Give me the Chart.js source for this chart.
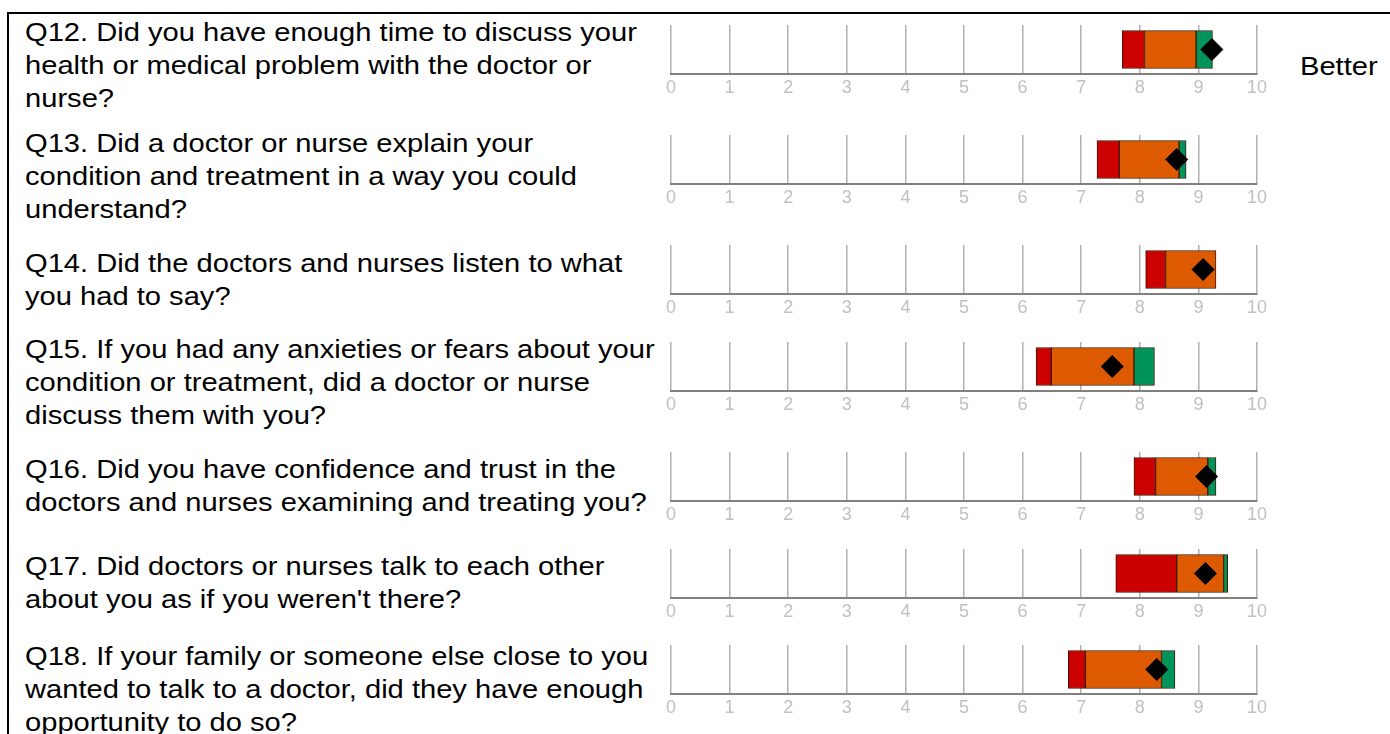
<!DOCTYPE html>
<html>
<head>
<meta charset="utf-8">
<script src="https://cdn.jsdelivr.net/npm/chart.js@4/dist/chart.umd.min.js"></script>
<style>
  body { margin: 0; background: #fff; width: 1390px; height: 734px; overflow: hidden; position: relative;
         font-family: "Liberation Sans", Arial, sans-serif; }
  .frame { position: absolute; left: 7px; top: 12px; width: 1400px; height: 800px;
           border-left: 2px solid #000; border-top: 2px solid #000; }
  .q, .better { position: absolute; font-size: 26px; line-height: 33px; color: #000;
                transform: scaleX(1.12); transform-origin: 0 0; white-space: nowrap; }
  .q { left: 25px; }
  .better { left: 1300px; top: 50px; }
  .row { position: absolute; left: 651px; width: 626px; height: 86px; }
</style>
</head>
<body>
<div class="frame"></div>
<div class="better">Better</div>
<div id="rows"></div>
<script>
const questions = [
  "Q12. Did you have enough time to discuss your<br>health or medical problem with the doctor or<br>nurse?",
  "Q13. Did a doctor or nurse explain your<br>condition and treatment in a way you could<br>understand?",
  "Q14. Did the doctors and nurses listen to what<br>you had to say?",
  "Q15. If you had any anxieties or fears about your<br>condition or treatment, did a doctor or nurse<br>discuss them with you?",
  "Q16. Did you have confidence and trust in the<br>doctors and nurses examining and treating you?",
  "Q17. Did doctors or nurses talk to each other<br>about you as if you weren't there?",
  "Q18. If your family or someone else close to you<br>wanted to talk to a doctor, did they have enough<br>opportunity to do so?"
];

// band edges per question: red from lowStart to lowEnd, orange to midEnd, green to highEnd
const lowStart = [7.70, 7.27, 8.10, 6.23, 7.90, 7.59, 6.78];
const lowEnd   = [8.08, 7.65, 8.44, 6.49, 8.27, 8.63, 7.07];
const midEnd   = [8.96, 8.67, 9.30, 7.90, 9.16, 9.43, 8.37];
const highEnd  = [9.24, 8.79, 9.30, 8.25, 9.30, 9.50, 8.60];
const scores   = [9.23, 8.63, 9.08, 7.53, 9.14, 9.12, 8.29];

const xTicks = [0, 1, 2, 3, 4, 5, 6, 7, 8, 9, 10];

// layout of each row (pixel y of the axis line, y of first text line)
const axisY = [74, 184, 294, 391, 501, 598, 694];
const textY = [16, 127, 247, 333, 453, 550, 640];

const rows = document.getElementById('rows');

questions.forEach((q, i) => {
  const t = document.createElement('div');
  t.className = 'q';
  t.style.top = textY[i] + 'px';
  t.innerHTML = q;
  rows.appendChild(t);

  const box = document.createElement('div');
  box.className = 'row';
  box.style.top = (axisY[i] - 61) + 'px';
  const c = document.createElement('canvas');
  box.appendChild(c);
  rows.appendChild(box);

  const band = (a, b) => (b > a ? [[a, b]] : [null]);

  new Chart(c, {
    data: {
      labels: [''],
      datasets: [
        { type: 'line', indexAxis: 'y', data: [scores[i]], showLine: false, order: 0,
          pointStyle: 'rectRot', pointRadius: 11, pointBackgroundColor: '#000', pointBorderColor: '#000', pointBorderWidth: 1 },
        { type: 'bar', indexAxis: 'y', data: band(lowStart[i], lowEnd[i]), backgroundColor: '#cc0000', order: 1 },
        { type: 'bar', indexAxis: 'y', data: band(lowEnd[i], midEnd[i]), backgroundColor: '#dd5a00', order: 1 },
        { type: 'bar', indexAxis: 'y', data: band(midEnd[i], highEnd[i]), backgroundColor: '#00935a', order: 1 }
      ]
    },
    options: {
      indexAxis: 'y',
      responsive: true,
      maintainAspectRatio: false,
      animation: false,
      layout: { padding: { left: 20, right: 20, top: 10, bottom: 0 } },
      datasets: {
        bar: { grouped: false, barThickness: 38, borderWidth: 1, borderColor: '#3a1a00', borderSkipped: false }
      },
      plugins: { legend: { display: false }, tooltip: { enabled: false } },
      scales: {
        x: {
          type: 'linear', min: 0, max: 10,
          afterBuildTicks: (s) => { s.ticks = xTicks.map(v => ({ value: v })); },
          afterFit: (s) => { s.height = 25; },
          grid: { color: '#b0b0b0', lineWidth: 1.5, drawTicks: false },
          border: { color: '#808080', width: 2 },
          ticks: { color: '#c0c0c0', padding: 3, font: { family: 'Liberation Sans', size: 18 } }
        },
        y: { type: 'category', display: false }
      }
    }
  });
});
</script>
</body>
</html>
